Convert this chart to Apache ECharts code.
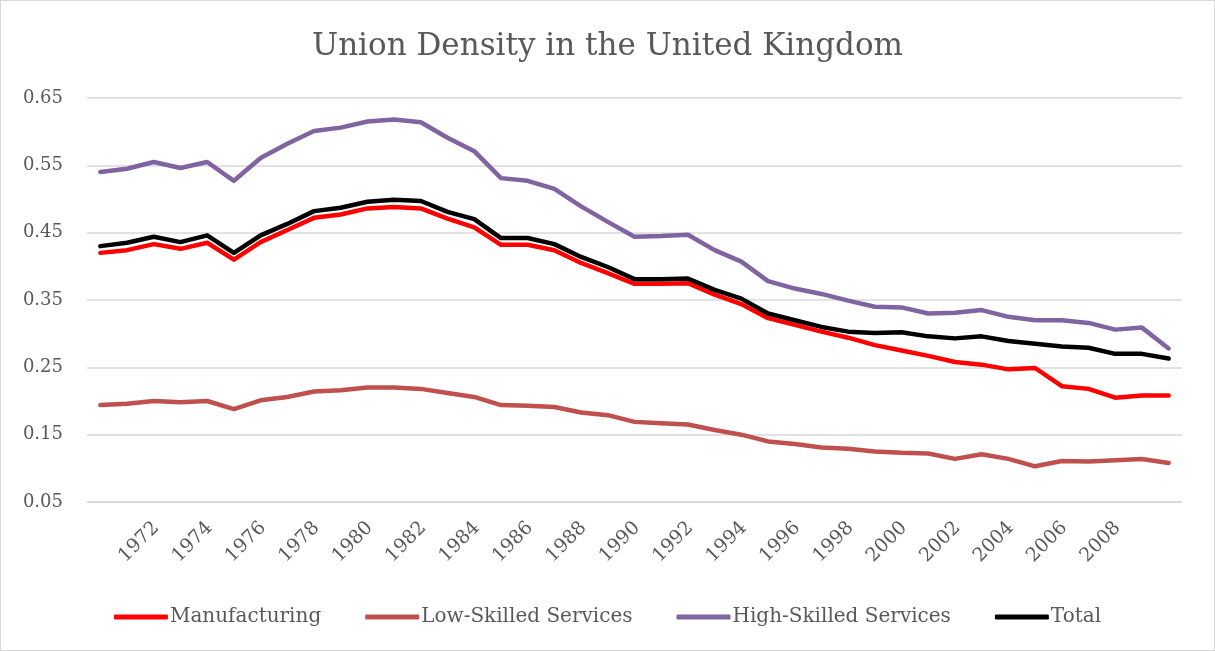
<!DOCTYPE html>
<html>
<head>
<meta charset="utf-8">
<script src="https://cdn.jsdelivr.net/npm/echarts@6/dist/echarts.min.js"></script>
<style>
  html, body { margin: 0; padding: 0; background: #fff; }
  #chart { width: 1215px; height: 651px; box-sizing: border-box; border: 1px solid #d9d9d9; }
</style>
</head>
<body>
<div id="chart"></div>
<script>
const years = []
for (let y = 1970; y <= 2010; y++) years.push(String(y))

const manufacturing = [
  0.420, 0.424, 0.433, 0.426, 0.435, 0.410, 0.436, 0.454, 0.472, 0.477,
  0.486, 0.488, 0.486, 0.471, 0.458, 0.432, 0.432, 0.424, 0.405, 0.390,
  0.374, 0.374, 0.375, 0.358, 0.344, 0.323, 0.313, 0.303, 0.294, 0.283,
  0.275, 0.267, 0.258, 0.254, 0.247, 0.249, 0.222, 0.218, 0.205, 0.208,
  0.208
]
const lowSkilled = [
  0.194, 0.196, 0.200, 0.198, 0.200, 0.188, 0.201, 0.206, 0.214, 0.216,
  0.220, 0.220, 0.218, 0.212, 0.206, 0.194, 0.193, 0.191, 0.183, 0.179,
  0.169, 0.167, 0.165, 0.157, 0.150, 0.140, 0.136, 0.131, 0.129, 0.125,
  0.123, 0.122, 0.114, 0.121, 0.114, 0.103, 0.111, 0.110, 0.112, 0.114,
  0.108
]
const highSkilled = [
  0.540, 0.545, 0.555, 0.546, 0.555, 0.527, 0.561, 0.582, 0.601, 0.606,
  0.615, 0.618, 0.614, 0.591, 0.571, 0.531, 0.527, 0.515, 0.489, 0.466,
  0.444, 0.445, 0.447, 0.424, 0.407, 0.378, 0.367, 0.359, 0.349, 0.340,
  0.339, 0.330, 0.331, 0.335, 0.325, 0.320, 0.320, 0.316, 0.306, 0.309,
  0.278
]
const total = [
  0.430, 0.435, 0.444, 0.436, 0.446, 0.420, 0.446, 0.463, 0.482, 0.487,
  0.496, 0.499, 0.497, 0.481, 0.470, 0.442, 0.442, 0.433, 0.414, 0.399,
  0.381, 0.381, 0.382, 0.365, 0.352, 0.330, 0.320, 0.310, 0.303, 0.301,
  0.302, 0.296, 0.293, 0.296, 0.289, 0.285, 0.281, 0.279, 0.270, 0.270,
  0.263
]

const fontFamily = 'DejaVu Serif'
const textColor = '#595959'

function line(name, data, color) {
  return {
    name: name,
    type: 'line',
    data: data,
    symbol: 'none',
    lineStyle: { color: color, width: 4.5, cap: 'round', join: 'round' },
    itemStyle: { color: color },
    animation: false
  }
}

const chart = echarts.init(document.getElementById('chart'))
chart.setOption({
  title: {
    text: 'Union Density in the United Kingdom',
    left: 'center',
    top: 25,
    textStyle: { fontFamily: fontFamily, fontSize: 31, fontWeight: 'normal', color: textColor }
  },
  grid: { left: 86, right: 32, top: 97, bottom: 148 },
  xAxis: {
    type: 'category',
    data: years,
    boundaryGap: true,
    axisLine: { lineStyle: { color: '#d9d9d9', width: 1.5 } },
    axisTick: { show: false },
    axisLabel: {
      interval: 1,
      rotate: 45,
      margin: 12,
      fontFamily: fontFamily,
      fontSize: 19,
      color: textColor,
      // blank first line pushes the rotated year a little further from the axis
      formatter: v => '\n' + v + ' '
    }
  },
  yAxis: {
    type: 'value',
    min: 0.05,
    max: 0.65,
    interval: 0.1,
    axisLine: { show: false },
    axisTick: { show: false },
    splitLine: { lineStyle: { color: '#d9d9d9', width: 1.5 } },
    axisLabel: {
      margin: 24,
      fontFamily: fontFamily,
      fontSize: 18,
      color: textColor,
      formatter: v => v.toFixed(2)
    }
  },
  legend: {
    bottom: 18,
    left: 'center',
    icon: 'roundRect',
    itemWidth: 54,
    itemHeight: 5,
    itemGap: 44,
    textStyle: { fontFamily: fontFamily, fontSize: 20, color: textColor, padding: [0, 0, 0, -3] },
    data: ['Manufacturing', 'Low-Skilled Services', 'High-Skilled Services', 'Total']
  },
  series: [
    line('Manufacturing', manufacturing, '#ff0000'),
    line('Low-Skilled Services', lowSkilled, '#c0504d'),
    line('High-Skilled Services', highSkilled, '#8064a2'),
    line('Total', total, '#000000')
  ]
})
</script>
</body>
</html>
